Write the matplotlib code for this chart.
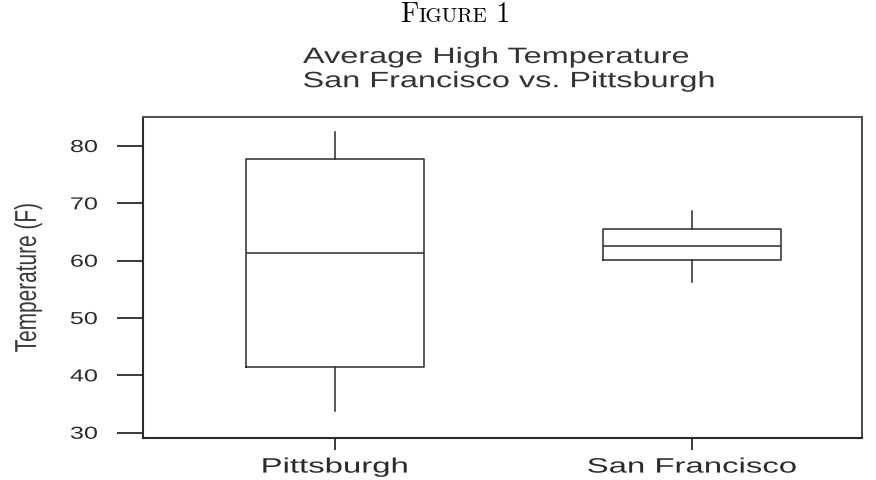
import matplotlib
matplotlib.use("Agg")
import matplotlib.pyplot as plt
from matplotlib.patheffects import AbstractPathEffect
from matplotlib.transforms import Affine2D
from matplotlib.offsetbox import TextArea, HPacker, AnnotationBbox

# data
cities = ["Pittsburgh", "San Francisco"]
whisker_low = [33.8, 56.3]
q1 = [41.4, 60.2]
median = [61.4, 62.6]
q3 = [77.7, 65.5]
whisker_high = [82.5, 68.7]
yticks = [30, 40, 50, 60, 70, 80]

ink = "#2b2b2b"


class Widen(AbstractPathEffect):
    # the source image is stretched sideways, so widen glyphs the same way
    def __init__(self, sx=1.47, anchor="center"):
        super().__init__()
        self.sx = sx
        self.anchor = anchor

    def draw_path(self, renderer, gc, tpath, affine, rgbFace=None):
        box = tpath.get_extents(affine)
        if self.anchor == "left":
            x0 = box.x0
        elif self.anchor == "right":
            x0 = box.x1
        else:
            x0 = (box.x0 + box.x1) / 2
        t = affine + Affine2D().translate(-x0, 0).scale(self.sx, 1).translate(x0, 0)
        renderer.draw_path(gc, tpath, t, rgbFace)


plt.rcParams["font.family"] = ["Liberation Sans", "DejaVu Sans"]

fig = plt.figure(figsize=(8.76, 4.8), dpi=100)
ax = fig.add_axes([143 / 876, 42 / 480, 719 / 876, 321 / 480])

stats = []
for i in range(len(cities)):
    stats.append({"label": cities[i], "whislo": whisker_low[i], "q1": q1[i],
                  "med": median[i], "q3": q3[i], "whishi": whisker_high[i]})

lp = dict(color=ink, linewidth=1.1)
ax.bxp(stats, positions=[1, 2], widths=0.5, showcaps=False, showfliers=False,
       boxprops=lp, whiskerprops=lp, medianprops=lp)

ax.set_xlim(0.462, 2.476)
ax.set_ylim(29.08, 85.06)
ax.set_yticks(yticks)
ax.set_xticks([1, 2])
ax.set_xticklabels(cities)

for s in ax.spines.values():
    s.set_color(ink)
    s.set_linewidth(1.2)
ax.spines["top"].set_color("#555555")
ax.spines["top"].set_linewidth(1.5)
ax.spines["left"].set_linewidth(1.5)
ax.spines["bottom"].set_linewidth(1.5)

ax.tick_params(axis="y", direction="out", length=18.7, width=1.3, pad=14,
               labelsize=12.5, color=ink, labelcolor=ink)
ax.tick_params(axis="x", direction="out", length=8.6, width=1.3, pad=5.5,
               labelsize=15, color=ink, labelcolor=ink)

for lbl in ax.get_yticklabels():
    lbl.set_path_effects([Widen(1.45, "right")])
for lbl in ax.get_xticklabels():
    lbl.set_path_effects([Widen(1.58, "center")])

ylab = ax.set_ylabel("Temperature (F)", fontsize=15, color="#3a3a3a")
ax.yaxis.set_label_coords(-(143 - 28) / 719, 0.5)
ylab.set_verticalalignment("center")
ylab.set_path_effects([Widen(1.45, "center")])

title = fig.text(303 / 876, 1 - 47 / 480,
                 "Average High Temperature\nSan Francisco vs. Pittsburgh",
                 ha="left", va="top", multialignment="left",
                 fontsize=16, color="#333333", linespacing=1.2)
title.set_path_effects([Widen(1.46, "left")])

# "Figure 1" caption in small caps
big = dict(fontfamily="cmr10", fontsize=20, color="black")
small = dict(fontfamily="cmr10", fontsize=15, color="black")
caption = HPacker(children=[TextArea("F", textprops=big),
                            TextArea("IGURE", textprops=small),
                            TextArea(" 1", textprops=big)],
                  align="baseline", pad=0, sep=0)
fig.add_artist(AnnotationBbox(caption, (455 / 876, 1 - 15 / 480),
                              xycoords="figure fraction", frameon=False,
                              box_alignment=(0.5, 0.5)))

fig.savefig("out.png", dpi=100)
